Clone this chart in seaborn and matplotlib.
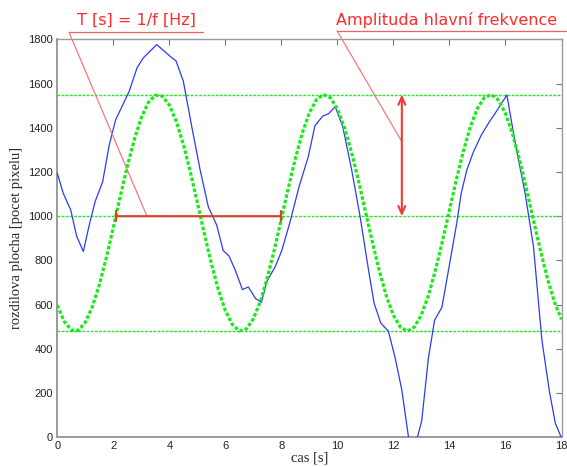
import numpy as np
import pandas as pd
import matplotlib
matplotlib.use("Agg")
import matplotlib.pyplot as plt
from matplotlib.lines import Line2D
import seaborn as sns

# ---- data ----
blue_x = [0.0, 0.21, 0.48, 0.69, 0.93, 1.14, 1.35, 1.62, 1.85, 2.08, 2.56, 2.85,
          3.07, 3.55, 4.03, 4.24, 4.5, 4.8, 5.10, 5.39, 5.69, 5.92, 6.13, 6.35,
          6.61, 6.82, 7.08, 7.29, 7.48, 7.78, 8.01, 8.30, 8.63, 8.96, 9.2, 9.48,
          9.68, 9.92, 10.19, 10.51, 10.81, 11.11, 11.31, 11.55, 11.82, 12.06,
          12.30, 12.65, 13.01, 13.25, 13.47, 13.73, 14.03, 14.26, 14.42, 14.62,
          14.86, 15.13, 15.39, 15.63, 16.05, 16.35, 16.70, 17.0, 17.30, 17.56,
          17.78, 17.99]
blue_y = [1195, 1104, 1028, 910, 840, 960, 1066, 1156, 1320, 1435, 1563, 1672,
          1716, 1776, 1723, 1702, 1610, 1405, 1209, 1043, 960, 845, 820, 757,
          668, 680, 627, 611, 705, 772, 843, 970, 1133, 1269, 1410, 1453,
          1463, 1495, 1405, 1209, 998, 757, 606, 516, 480, 360,
          214, -100, 75, 360, 530, 588, 802, 968, 1104, 1209,
          1292, 1365, 1420, 1465, 1548, 1330, 1104, 862, 440, 214,
          63, 0]

green_x = np.arange(0, 18.001, 0.25)
green_y = [597, 524, 485, 484, 520, 590, 689, 812, 949, 1090, 1226, 1347,
           1446, 1514, 1547, 1543, 1503, 1428, 1325, 1200, 1062, 921, 786, 667,
           573, 510, 481, 490, 536, 615, 722, 849, 988, 1129, 1262, 1378,
           1468, 1527, 1550, 1536, 1485, 1402, 1291, 1162, 1022, 882, 751, 638,
           552, 498, 480, 499, 555, 642, 756, 887, 1028, 1167, 1296, 1406,
           1488, 1537, 1550, 1525, 1465, 1373, 1257, 1123, 982, 844, 717, 611,
           533]

levels = [1550, 1000, 480]
period_start, period_end, period_level = 2.1, 8.0, 1000
amp_x, amp_low, amp_high = 12.3, 1000, 1550
xticks = list(range(0, 19, 2))
yticks = list(range(0, 1801, 200))

label_T = "T [s] = 1/f [Hz]"
label_A = "Amplituda hlavní frekvence"
xlabel = "cas [s]"
ylabel = "rozdilova plocha [pocet pixelu]"

# ---- plot ----
sns.set_style("white")
plt.rcParams["font.family"] = ["Liberation Sans", "DejaVu Sans"]

W, H = 567, 467
fig = plt.figure(figsize=(W / 100, H / 100), dpi=100)
ax = fig.add_axes([57.3 / W, 1 - 437.3 / H, (561.5 - 57.3) / W, (437.3 - 39.3) / H])

green = "#22e822"
for lv in levels:
    ax.axhline(lv, color=green, lw=1.0, linestyle=(0, (2, 1)), zorder=2)

df_b = pd.DataFrame({"t": blue_x, "v": blue_y})
sns.lineplot(data=df_b, x="t", y="v", ax=ax, color="#2b3cf2", lw=0.9,
             estimator=None, sort=False, zorder=3)
df_g = pd.DataFrame({"t": green_x, "v": green_y})
sns.lineplot(data=df_g, x="t", y="v", ax=ax, color="#18ea18", lw=2.3,
             linestyle=(0, (1.1, 0.65)), dash_capstyle="butt",
             estimator=None, sort=False, zorder=4)

ax.set_xlim(0, 18)
ax.set_ylim(0, 1800)
ax.set_xticks(xticks)
ax.set_yticks(yticks)
ax.tick_params(direction="in", length=4, width=0.8, color="#777777",
               labelsize=8, labelcolor="#222222", top=True, right=True, pad=3)
for side, sp in ax.spines.items():
    sp.set_visible(True)
    sp.set_color("#9a9a9a")
    sp.set_linewidth(1.4 if side in ("left", "bottom") else 1.0)

ax.set_xlabel(xlabel, family="Liberation Serif", fontsize=10.5, labelpad=0)
ax.set_ylabel(ylabel, family="Liberation Serif", fontsize=10.5, labelpad=4)

red = "#ff2a2a"
# period bar
ax.annotate("", xy=(period_end, period_level), xytext=(period_start, period_level),
            arrowprops=dict(arrowstyle="|-|,widthA=0.35,widthB=0.35",
                            color="#e03a2a", lw=1.5, shrinkA=0, shrinkB=0),
            zorder=5)
# amplitude arrow
ax.annotate("", xy=(amp_x, amp_high), xytext=(amp_x, amp_low),
            arrowprops=dict(arrowstyle="<->,head_length=0.55,head_width=0.25",
                            color="#f23838", lw=1.5, shrinkA=0, shrinkB=0),
            zorder=5)

# texts with underline and leader
fig.text(136 / W, 1 - 20.5 / H, label_T, color=red, fontsize=11.5,
         family="DejaVu Sans", ha="center", va="center")
fig.add_artist(Line2D([69 / W, 203 / W], [1 - 32.3 / H] * 2,
                      transform=fig.transFigure, color="#f06060", lw=0.9))
ax.annotate("", xy=(3.2, period_level), xycoords="data",
            xytext=(69 / W, 1 - 32.3 / H), textcoords="figure fraction",
            arrowprops=dict(arrowstyle="-", color="#f37a7a", lw=0.9,
                            shrinkA=0, shrinkB=0), annotation_clip=False)

fig.text(447 / W, 1 - 20.5 / H, label_A, color=red, fontsize=11.5,
         family="DejaVu Sans", ha="center", va="center")
fig.add_artist(Line2D([337 / W, 1.0], [1 - 30.7 / H] * 2,
                      transform=fig.transFigure, color="#f06060", lw=0.9))
ax.annotate("", xy=(amp_x, 1337), xycoords="data",
            xytext=(337 / W, 1 - 30.7 / H), textcoords="figure fraction",
            arrowprops=dict(arrowstyle="-", color="#f37a7a", lw=0.9,
                            shrinkA=0, shrinkB=0), annotation_clip=False)

fig.savefig("out.png", dpi=100)
